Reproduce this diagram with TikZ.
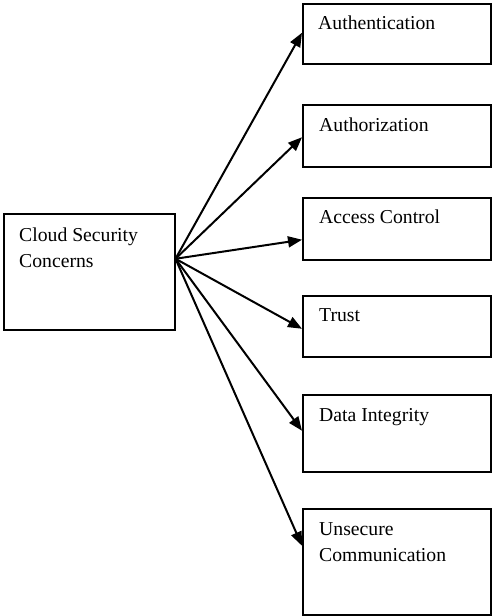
\documentclass[tikz,border=0pt]{standalone}
\usepackage{fontspec}
\setmainfont{Liberation Serif}
\usetikzlibrary{arrows.meta}
\begin{document}
\begin{tikzpicture}[x=1pt,y=-1pt,
  box/.style={draw,line width=1.5pt,anchor=north west,inner sep=0pt,minimum width=188pt},
  lbl/.style={anchor=base west,inner sep=0pt,align=left,font=\fontsize{19.7}{26.5}\selectfont},
  conn/.style={line width=2pt,-{Triangle[length=14pt,width=11pt]}}]
\useasboundingbox (0,0) rectangle (494,616);
% boxes
\node[box,minimum width=171pt,minimum height=116pt] (cloud) at (3,213) {};
\node[box,minimum height=60pt]  (auth)  at (302,3)   {};
\node[box,minimum height=62pt]  (autz)  at (302,104) {};
\node[box,minimum height=62pt]  (acc)   at (302,197) {};
\node[box,minimum height=61pt]  (trust) at (302,295) {};
\node[box,minimum height=77pt]  (data)  at (302,394) {};
\node[box,minimum height=106pt] (unsec) at (302,508) {};
% labels
\node[lbl] (tcloud) at (19,267.7)  {Cloud Security\\Concerns};
\node[lbl] (tauth)  at (318,29)    {Authentication};
\node[lbl] (tautz)  at (319,131.7) {Authorization};
\node[lbl] (tacc)   at (319,223)   {Access Control};
\node[lbl] (ttrust) at (319,321.7) {Trust};
\node[lbl] (tdata)  at (319,421.7) {Data Integrity};
\node[lbl] (tunsec) at (319,561.7) {Unsecure\\Communication};
% connectors
\coordinate (src) at ([yshift=13pt]cloud.east);
\draw[conn] (src) -- ([yshift=1pt]auth.west);
\draw[conn] (src) -- ([yshift=-1.5pt]autz.west);
\draw[conn] (src) -- ([yshift=-11pt]acc.west);
\draw[conn] (src) -- ([yshift=-2.5pt]trust.west);
\draw[conn] (src) -- ([yshift=2.5pt]data.west);
\draw[conn] (src) -- ([yshift=16pt]unsec.west);
\end{tikzpicture}
\end{document}
